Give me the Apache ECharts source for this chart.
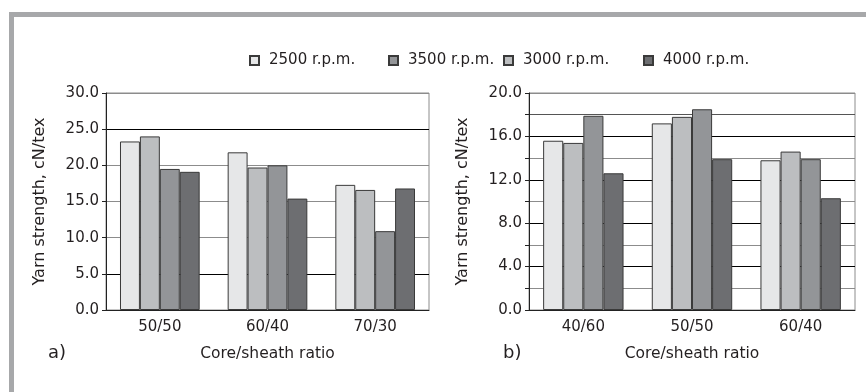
<!DOCTYPE html>
<html>
<head>
<meta charset="utf-8">
<script src="https://cdn.jsdelivr.net/npm/echarts@6/dist/echarts.min.js"></script>
<style>
  html, body { margin: 0; padding: 0; background: #fff; }
  #main { width: 866px; height: 392px; }
</style>
</head>
<body>
<div id="main"></div>
<script>
// data
const seriesNames = ['2500 r.p.m.', '3000 r.p.m.', '3500 r.p.m.', '4000 r.p.m.']
const legendOrder = ['2500 r.p.m.', '3500 r.p.m.', '3000 r.p.m.', '4000 r.p.m.']
const colors = ['#e6e7e8', '#bcbec0', '#939598', '#6d6e71']

const catsA = ['50/50', '60/40', '70/30']
const a2500 = [23.3, 21.8, 17.3]
const a3000 = [24.0, 19.7, 16.6]
const a3500 = [19.5, 20.0, 10.9]
const a4000 = [19.1, 15.4, 16.8]

const catsB = ['40/60', '50/50', '60/40']
const b2500 = [15.6, 17.2, 13.8]
const b3000 = [15.4, 17.8, 14.6]
const b3500 = [17.9, 18.5, 13.9]
const b4000 = [12.6, 13.9, 10.3]

const font = 'DejaVu Sans'
const ink = '#231f20'
const grey = '#8c8c8c'

const valsA = [a2500, a3000, a3500, a4000]
const valsB = [b2500, b3000, b3500, b4000]

var myChart = echarts.init(document.getElementById('main'))

const xAxisBase = (cats, idx) => ({
    type: 'category', gridIndex: idx, data: cats,
    axisLine: { lineStyle: { color: '#222', width: 1 } },
    axisTick: { show: false },
    axisLabel: { color: ink, fontFamily: font, fontSize: 15, margin: 10 },
    name: 'Core/sheath ratio', nameLocation: 'middle', nameGap: 36,
    nameTextStyle: { color: ink, fontFamily: font, fontSize: 15.5 }
})

const yAxisBase = (idx, max, interval, lineColors, fmt) => ({
    type: 'value', gridIndex: idx, min: 0, max: max, interval: interval,
    axisLine: { show: true, lineStyle: { color: '#222' } },
    axisTick: { show: true, length: 4, lineStyle: { color: '#222' } },
    axisLabel: { color: ink, fontFamily: font, fontSize: 15, margin: 7, formatter: fmt },
    splitLine: { show: true, lineStyle: { color: lineColors, width: 1 } },
    name: 'Yarn strength, cN/tex', nameLocation: 'middle', nameGap: 58,
    nameTextStyle: { color: ink, fontFamily: font, fontSize: 16 }
})

const makeSeries = (vals, idx) => vals.map((v, i) => ({
    name: seriesNames[i], type: 'bar', xAxisIndex: idx, yAxisIndex: idx,
    data: v, barGap: '0%', barCategoryGap: '26%',
    itemStyle: { color: colors[i], borderColor: '#3a3a3a', borderWidth: 1 },
    emphasis: { disabled: true }
}))

const legendLeft = [249, 388, 503, 643]
const legends = legendOrder.map((n, i) => ({
    data: [n], left: legendLeft[i], top: 53, padding: 0,
    icon: 'rect', itemWidth: 9, itemHeight: 9,
    selectedMode: false,
    textStyle: { color: ink, fontFamily: font, fontSize: 15, padding: [0, 0, 0, 5] }
}))

myChart.setOption({
    animation: false,
    legend: legends,
    grid: [
        { left: 106, right: 437, top: 93, bottom: 82, show: true, borderColor: grey, borderWidth: 1 },
        { left: 529, right: 11, top: 93, bottom: 82, show: true, borderColor: grey, borderWidth: 1 }
    ],
    xAxis: [xAxisBase(catsA, 0), xAxisBase(catsB, 1)],
    yAxis: [
        yAxisBase(0, 30, 5, ['#000', '#000', grey, grey, grey, '#000', grey], v => v.toFixed(1)),
        yAxisBase(1, 20, 2, ['#000', grey, '#000', grey, '#000', grey, '#000', grey, '#000', '#555', grey],
            v => (v % 4 === 0 ? v.toFixed(1) : ''))
    ],
    graphic: [
        { type: 'rect', shape: { x: 9, y: 12, width: 857, height: 5 }, style: { fill: '#a7a8aa' }, silent: true },
        { type: 'rect', shape: { x: 9, y: 12, width: 5, height: 380 }, style: { fill: '#a7a8aa' }, silent: true },
        { type: 'text', left: 48, top: 344, style: { text: 'a)', fill: ink, font: '18px "DejaVu Sans"' } },
        { type: 'text', left: 503, top: 344, style: { text: 'b)', fill: ink, font: '18px "DejaVu Sans"' } }
    ],
    series: makeSeries(valsA, 0).concat(makeSeries(valsB, 1))
})
</script>
</body>
</html>
